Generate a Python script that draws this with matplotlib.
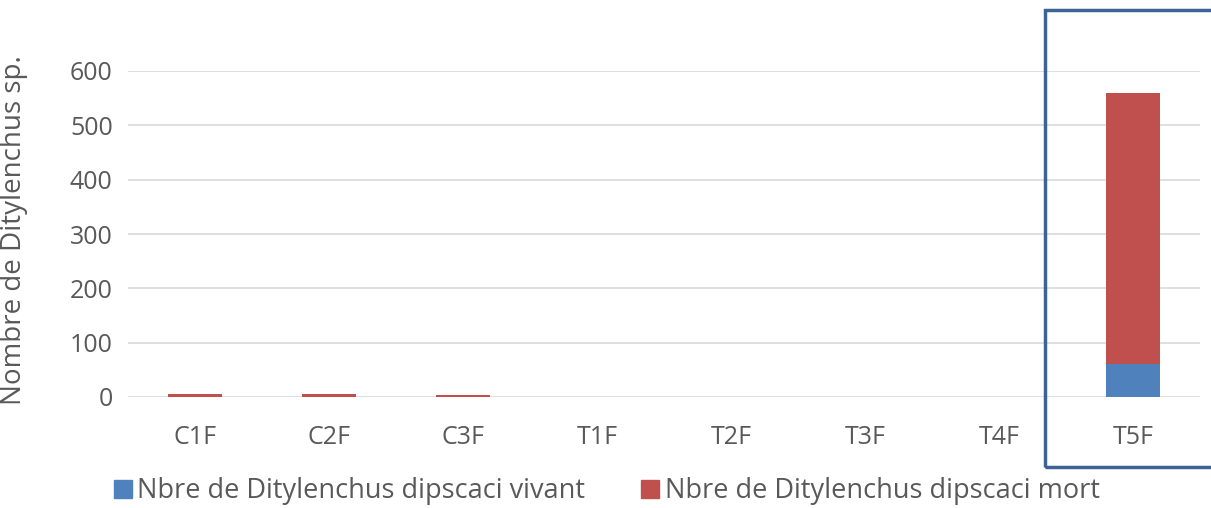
import matplotlib
matplotlib.use("Agg")
import matplotlib.pyplot as plt
from matplotlib.patches import Rectangle
import numpy as np

categories = ["C1F", "C2F", "C3F", "T1F", "T2F", "T3F", "T4F", "T5F"]
vivant = [0, 0, 0, 0, 0, 0, 0, 60]
mort = [5, 5, 3, 0, 0, 0, 0, 500]
yticks = [0, 100, 200, 300, 400, 500, 600]
label_vivant = "Nbre de Ditylenchus dipscaci vivant"
label_mort = "Nbre de Ditylenchus dipscaci mort"
ylabel = "Nombre de Ditylenchus sp."

plt.rcParams['font.family'] = ['Open Sans', 'DejaVu Sans']
blue = "#4f81bd"
red = "#c0504d"
txt = "#595959"

W, H = 1211, 508
fig = plt.figure(figsize=(W/100, H/100), dpi=100)
ax = fig.add_axes([128/W, 1-397/H, (1200-128)/W, (397-71)/H])
x = np.arange(len(categories))
ax.bar(x, vivant, width=0.4, color=blue, label=label_vivant)
ax.bar(x, mort, width=0.4, bottom=vivant, color=red, label=label_mort)
ax.set_xlim(-0.5, len(categories)-0.5)
ax.set_ylim(0, 600)
ax.set_yticks(yticks)
ax.set_xticks(x)
ax.set_xticklabels(categories)
ax.tick_params(axis='both', length=0, labelsize=18, colors=txt)
ax.tick_params(axis='y', pad=11)
ax.tick_params(axis='x', pad=20)
for s in ax.spines.values():
    s.set_visible(False)
ax.grid(axis='y', color="#d9d9d9", linewidth=1.2)
ax.set_axisbelow(True)
ax.set_ylabel(ylabel, fontsize=20, color=txt)
ax.yaxis.set_label_coords((28-128)/(1200-128), (397-230)/(397-71))

handles = [plt.Line2D([], [], marker='s', linestyle='none', markersize=13, color=blue),
           plt.Line2D([], [], marker='s', linestyle='none', markersize=13, color=red)]
fig.legend(handles, [label_vivant, label_mort], loc='center', bbox_to_anchor=(606/W, 1-491/H),
           ncol=2, frameon=False, fontsize=19.5, labelcolor=txt, handletextpad=0.15,
           columnspacing=2.0, handlelength=0.8)

rect = Rectangle((1045/W, 1-467/H), 0.5, (467-10)/H, transform=fig.transFigure,
                 fill=False, edgecolor="#3c6394", linewidth=2.5, clip_on=False)
fig.patches.append(rect)

fig.savefig("out.png", dpi=100, facecolor="white")
